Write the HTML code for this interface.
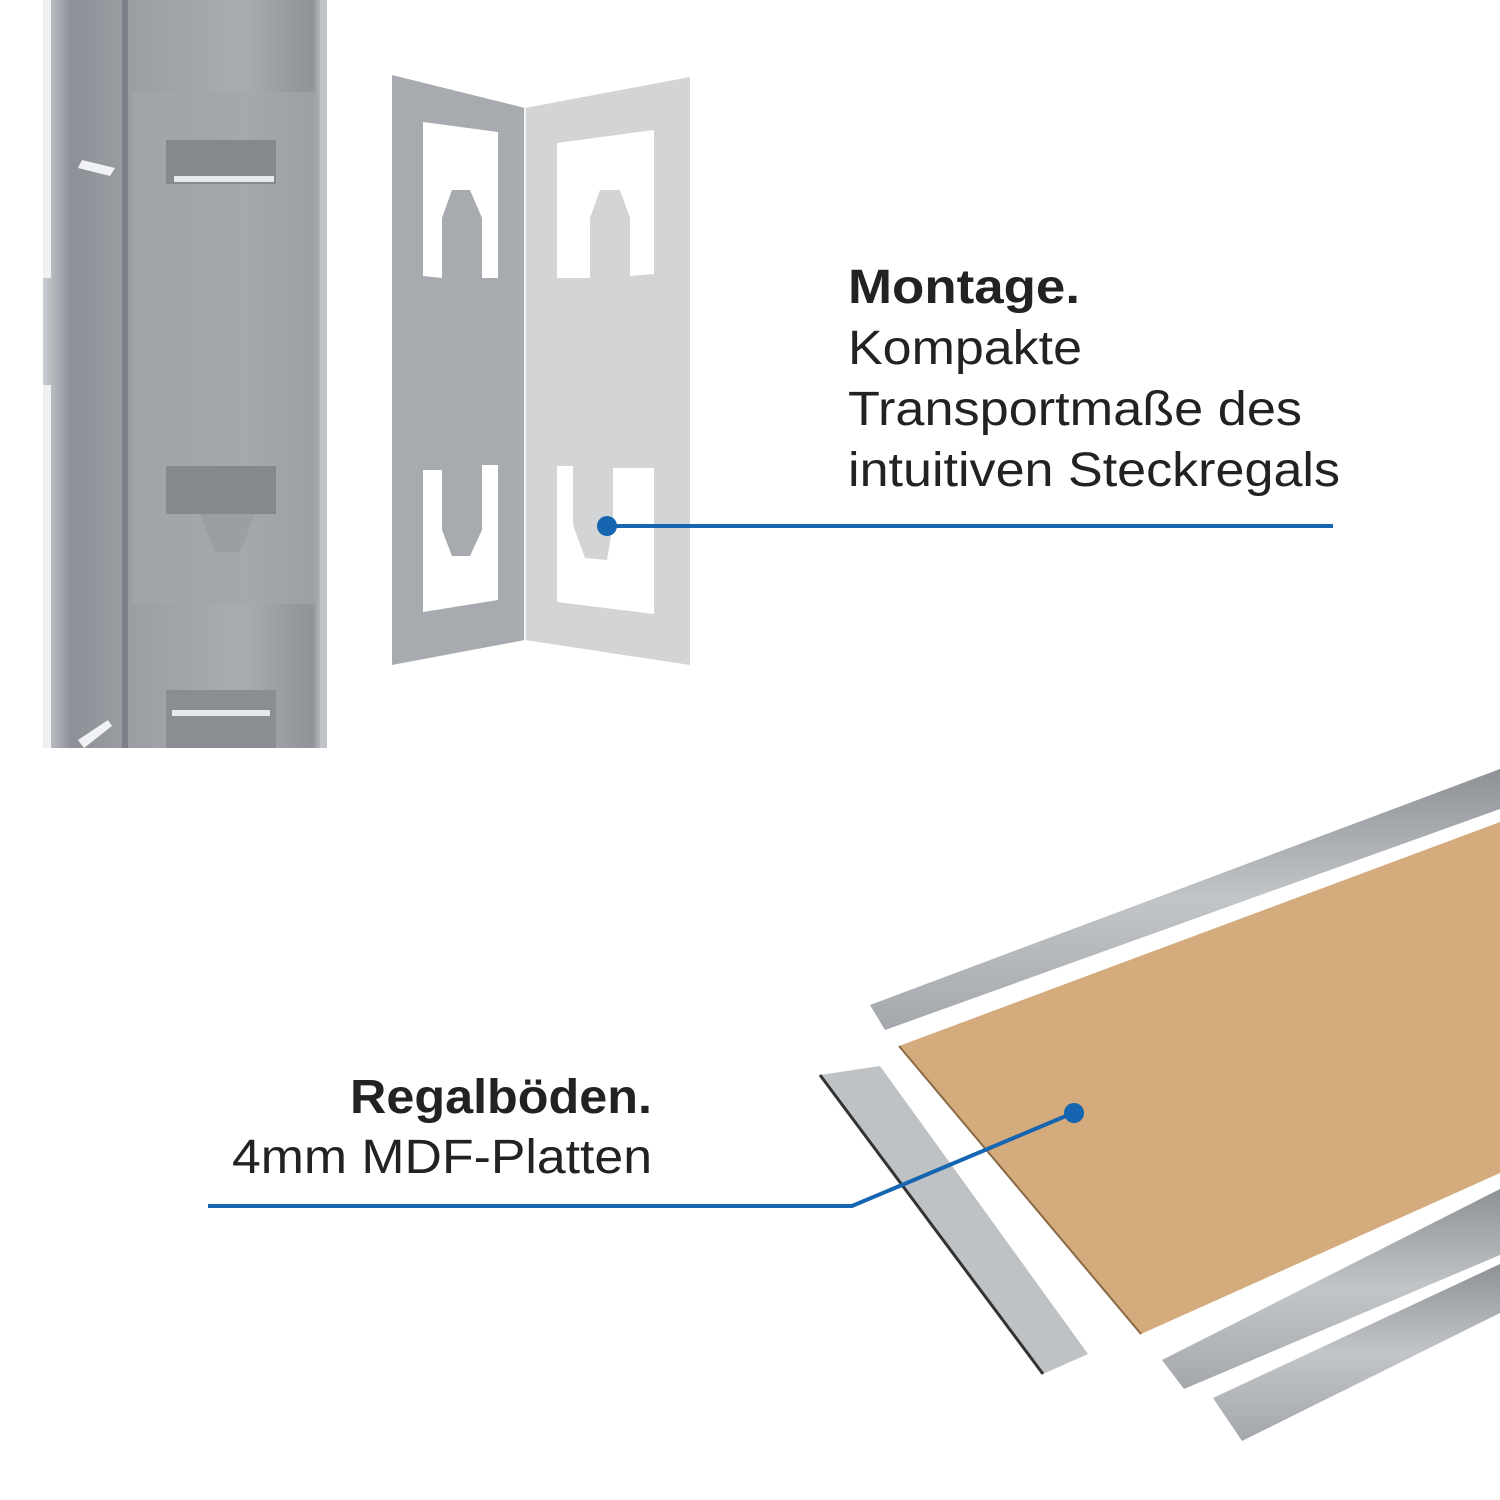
<!DOCTYPE html>
<html><head><meta charset="utf-8"><style>html,body{margin:0;padding:0;background:#fff}svg{display:block}</style></head>
<body>
<svg width="1500" height="1500" viewBox="0 0 1500 1500" xmlns="http://www.w3.org/2000/svg">
<defs>
<linearGradient id="post" x1="0" x2="1" y1="0" y2="0">
<stop offset="0" stop-color="#c9cdd2"/><stop offset="0.1" stop-color="#8d9197"/><stop offset="0.3" stop-color="#9a9ea3"/><stop offset="0.7" stop-color="#a9adb1"/><stop offset="0.95" stop-color="#8f9398"/><stop offset="1" stop-color="#d0d3d6"/>
</linearGradient>
<linearGradient id="rail" x1="0" x2="0" y1="0" y2="1">
<stop offset="0" stop-color="#8e9196"/><stop offset="0.5" stop-color="#c2c5c8"/><stop offset="1" stop-color="#a4a7ab"/>
</linearGradient>
</defs>
<!-- post -->
<rect x="43" y="0" width="284" height="748" fill="url(#post)"/>
<rect x="43" y="0" width="8" height="278" fill="#eef0f2"/>
<rect x="43" y="385" width="8" height="363" fill="#eef0f2"/>
<rect x="122" y="0" width="6" height="748" fill="#7d8187"/>
<rect x="320" y="0" width="7" height="748" fill="#c0c3c7"/>
<rect x="132" y="92" width="186" height="512" fill="#a3a7ab" opacity="0.7"/>
<rect x="166" y="140" width="110" height="44" fill="#85898e"/>
<rect x="174" y="176" width="100" height="6" fill="#e6e8ea"/>
<rect x="166" y="466" width="110" height="48" fill="#85898e"/>
<polygon points="200,514 255,514 240,552 215,552" fill="#9b9fa3"/>
<rect x="166" y="690" width="110" height="58" fill="#8a8e93"/>
<rect x="172" y="710" width="98" height="6" fill="#e6e8ea"/>
<polygon points="82,160 115,168 110,176 78,168" fill="#f0f2f3"/>
<polygon points="78,740 108,720 112,726 84,748" fill="#f0f2f3"/>
<!-- bracket -->
<polygon points="392,75 525,108 525,640 392,665" fill="#a7abaf"/>
<polygon points="525,108 690,77 690,665 525,640" fill="#d2d4d6"/>
<line x1="525" y1="108" x2="525" y2="640" stroke="#f2f3f4" stroke-width="2"/>
<g fill="#fff">
<path d="M423,122 L498,132 L498,278 L482,278 L482,218 L470,190 L452,190 L442,218 L442,278 L423,276 Z"/>
<path d="M557,143 L654,130 L654,274 L630,276 L630,218 L620,190 L600,190 L590,218 L590,278 L557,278 Z"/>
<path d="M423,470 L442,470 L442,530 L452,556 L470,556 L482,530 L482,465 L498,465 L498,600 L423,612 Z"/>
<path d="M557,466 L573,466 L573,525 L585,558 L607,560 L613,525 L613,468 L654,468 L654,614 L557,602 Z"/>
</g>
<!-- text -->
<g font-family="'Liberation Sans', sans-serif" fill="#222">
<text x="848" y="303" font-size="48" font-weight="bold" textLength="232" lengthAdjust="spacingAndGlyphs">Montage.</text>
<text x="848" y="364" font-size="48" textLength="234" lengthAdjust="spacingAndGlyphs">Kompakte</text>
<text x="848" y="425" font-size="48" textLength="454" lengthAdjust="spacingAndGlyphs">Transportmaße des</text>
<text x="848" y="486" font-size="48" textLength="492" lengthAdjust="spacingAndGlyphs">intuitiven Steckregals</text>
<text x="350" y="1113" font-size="48" font-weight="bold" textLength="302" lengthAdjust="spacingAndGlyphs">Regalböden.</text>
<text x="232" y="1173" font-size="48" textLength="420" lengthAdjust="spacingAndGlyphs">4mm MDF-Platten</text>
</g>
<!-- shelf parts -->
<polygon points="870,1005 1500,769 1500,809 885,1030" fill="url(#rail)"/>
<polygon points="899,1046 1500,822 1500,1173 1141,1334" fill="#d3ab7d"/>
<line x1="899" y1="1046" x2="1141" y2="1334" stroke="#8a6a45" stroke-width="2"/>
<polygon points="820,1075 880,1066 1088,1354 1043,1374" fill="#bfc2c5"/>
<line x1="820" y1="1075" x2="1043" y2="1374" stroke="#333" stroke-width="3"/>
<polygon points="1162,1360 1500,1189 1500,1255 1184,1389" fill="url(#rail)"/>
<polygon points="1213,1398 1500,1264 1500,1313 1242,1441" fill="url(#rail)"/>
<!-- connectors -->
<g stroke="#1565b0" stroke-width="4" fill="none">
<line x1="607" y1="526" x2="1333" y2="526"/>
<polyline points="208,1206 852,1206 1073,1113"/>
</g>
<circle cx="607" cy="526" r="10" fill="#1565b0"/>
<circle cx="1074" cy="1113" r="10" fill="#1565b0"/>
</svg>
</body></html>
